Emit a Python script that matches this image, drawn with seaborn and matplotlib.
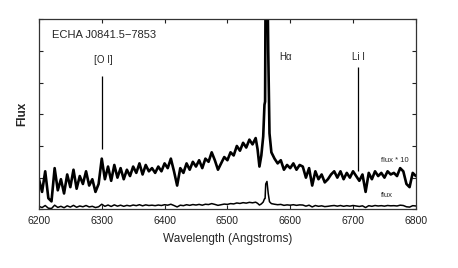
import numpy as np
import pandas as pd
import matplotlib
matplotlib.use('Agg')
import matplotlib.pyplot as plt
import seaborn as sns

# spectrum of ECHA J0841.5-7853, flux scaled by 10 (arbitrary units)
wavelength = [
    6200, 6205, 6210, 6215, 6220, 6225, 6230, 6235, 6240, 6245,
    6250, 6255, 6260, 6265, 6270, 6275, 6280, 6285, 6290, 6295,
    6300, 6305, 6310, 6315, 6320, 6325, 6330, 6335, 6340, 6345,
    6350, 6355, 6360, 6365, 6370, 6375, 6380, 6385, 6390, 6395,
    6400, 6405, 6410, 6415, 6420, 6425, 6430, 6435, 6440, 6445,
    6450, 6455, 6460, 6465, 6470, 6475, 6480, 6485, 6490, 6495,
    6500, 6505, 6510, 6515, 6520, 6525, 6530, 6535, 6540, 6545,
    6548, 6551, 6554, 6557, 6559, 6560, 6561, 6563, 6565, 6567,
    6570, 6575, 6580, 6585, 6590, 6595, 6600, 6605, 6610, 6615,
    6620, 6625, 6630, 6635, 6640, 6645, 6650, 6655, 6660, 6665,
    6670, 6675, 6680, 6685, 6690, 6695, 6700, 6705, 6710, 6715,
    6720, 6725, 6730, 6735, 6740, 6745, 6750, 6755, 6760, 6765,
    6770, 6775, 6780, 6785, 6790, 6795, 6800,
]
flux_x10 = [
    0.95, 0.55, 1.20, 0.35, 0.25, 1.30, 0.60, 0.95, 0.50, 1.10,
    0.70, 1.25, 0.65, 1.05, 0.80, 1.20, 0.75, 0.95, 0.55, 0.80,
    1.60, 0.95, 1.35, 0.90, 1.40, 1.00, 1.30, 0.95, 1.25, 1.05,
    1.35, 1.15, 1.45, 1.10, 1.40, 1.20, 1.30, 1.15, 1.35, 1.20,
    1.45, 1.30, 1.60, 1.20, 0.75, 1.30, 1.15, 1.45, 1.25, 1.50,
    1.35, 1.55, 1.30, 1.60, 1.50, 1.80, 1.55, 1.25, 1.45, 1.65,
    1.55, 1.80, 1.70, 2.00, 1.85, 2.10, 1.95, 2.20, 2.05, 2.25,
    1.90, 1.35, 1.70, 2.30, 3.30, 3.40, 8.00, 8.80, 5.00, 2.40,
    1.80, 1.60, 1.45, 1.55, 1.25, 1.40, 1.30, 1.45, 1.25, 1.40,
    1.35, 1.00, 1.30, 0.75, 1.20, 0.95, 1.10, 0.85, 0.95, 1.10,
    1.20, 1.00, 1.20, 0.95, 1.15, 1.00, 1.20, 1.05, 0.90, 1.10,
    0.55, 1.15, 0.95, 1.20, 1.05, 1.15, 1.00, 1.20, 1.10, 1.15,
    1.05, 1.30, 1.20, 0.80, 0.70, 1.15, 1.05,
]

# line identifications
line_ids = ['[O I]', 'Hα', 'Li I']
line_waves = [6300, 6563, 6708]

df = pd.DataFrame({'wavelength': wavelength, 'flux10': flux_x10})
df['flux'] = df['flux10'] / 10.0

sns.set_style('ticks')
plt.rcParams['font.family'] = ['Liberation Sans', 'DejaVu Sans']

fig = plt.figure(figsize=(4.58, 2.68), dpi=100)
ax = fig.add_axes([0.085, 0.219, 0.823, 0.709])

sns.lineplot(data=df, x='wavelength', y='flux10', ax=ax, color='black',
             linewidth=1.9, estimator=None, sort=False)
sns.lineplot(data=df, x='wavelength', y='flux', ax=ax, color='black',
             linewidth=1.1, estimator=None, sort=False)

ax.set_xlim(6200, 6800)
ax.set_ylim(0, 6)
ax.set_xticks([6200, 6300, 6400, 6500, 6600, 6700, 6800])
ax.set_yticks([0, 1, 2, 3, 4, 5, 6])
ax.set_yticklabels([])
ax.tick_params(direction='in', length=3, width=0.8, top=True, right=True,
               labelsize=7.5, colors='#222222', pad=5)
for s in ax.spines.values():
    s.set_linewidth(0.9)
    s.set_color('#333333')

ax.set_xlabel('Wavelength (Angstroms)', fontsize=8.5, labelpad=5)
ax.set_ylabel('Flux', fontsize=8.5, fontweight='bold', labelpad=3)

# line markers
ax.vlines(line_waves[0], 1.9, 4.2, color='black', linewidth=0.9)
ax.text(line_waves[0] + 2, 4.7, line_ids[0], fontsize=7, ha='center', va='center')
ax.text(6592, 4.8, line_ids[1], fontsize=7, ha='center', va='center')
ax.vlines(line_waves[2], 1.2, 4.5, color='black', linewidth=0.9)
ax.text(line_waves[2] + 1, 4.8, line_ids[2], fontsize=7, ha='center', va='center')

ax.text(0.036, 0.915, 'ECHA J0841.5\u22127853', transform=ax.transAxes,
        fontsize=8, ha='left', va='center')
ax.text(6767, 1.54, 'flux * 10', fontsize=5.5, ha='center', va='center')
ax.text(6754, 0.43, 'flux', fontsize=5.5, ha='center', va='center')

fig.savefig('out.png', dpi=100)
